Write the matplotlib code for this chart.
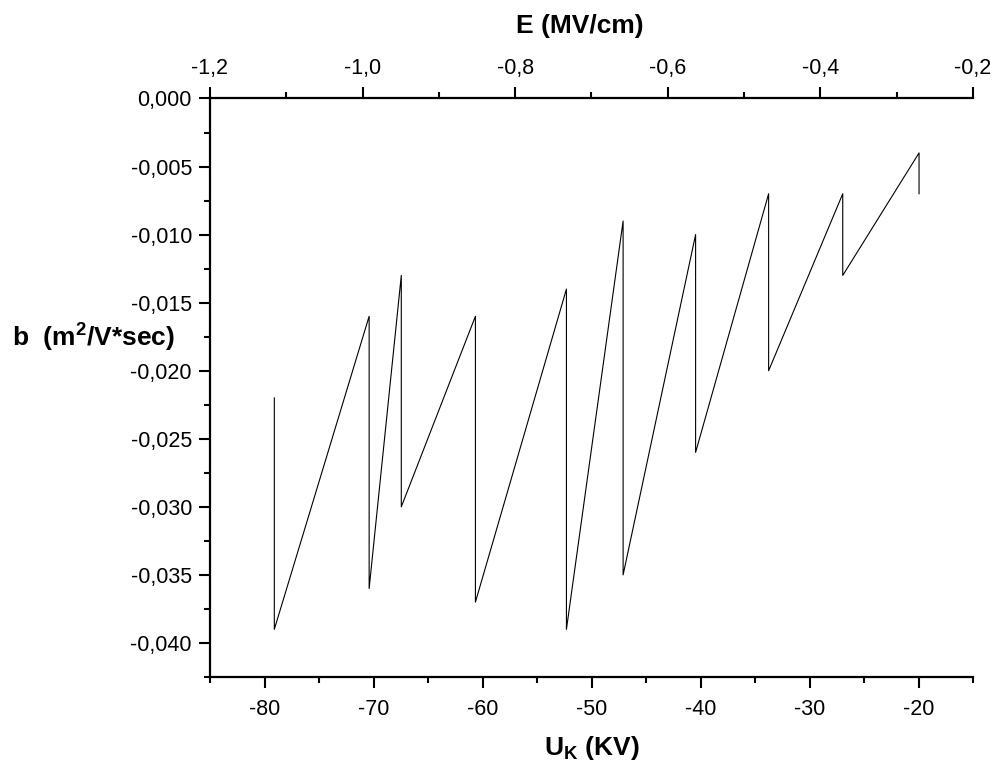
import matplotlib
matplotlib.use("Agg")
import matplotlib.pyplot as plt
from matplotlib.ticker import MultipleLocator, FuncFormatter

# sawtooth data: U_K (KV) and b (m2/V*sec)
u_k = [-79.1, -79.1, -70.4, -70.4, -67.45, -67.45, -60.65, -60.65, -52.3, -52.3,
       -47.1, -47.1, -40.45, -40.45, -33.75, -33.75, -26.95, -26.95, -19.95, -19.95]
b_val = [-0.022, -0.039, -0.016, -0.036, -0.013, -0.030, -0.016, -0.037, -0.014, -0.039,
         -0.009, -0.035, -0.010, -0.026, -0.007, -0.020, -0.007, -0.013, -0.004, -0.007]

x_lim = (-85, -15)
e_lim = (-1.2, -0.2)
y_lim = (-0.0425, 0.0)

plt.rcParams['font.family'] = ['Liberation Sans', 'DejaVu Sans']

def u_to_e(u):
    return e_lim[0] + (u - x_lim[0]) * (e_lim[1] - e_lim[0]) / (x_lim[1] - x_lim[0])

def e_to_u(e):
    return x_lim[0] + (e - e_lim[0]) * (x_lim[1] - x_lim[0]) / (e_lim[1] - e_lim[0])

def comma_fmt(ndig):
    return FuncFormatter(lambda v, p: ("%.*f" % (ndig, v)).replace('.', ',').replace('-0,000', '0,000'))

fig = plt.figure(figsize=(10, 7.76), dpi=100)
ax = fig.add_axes([0.21, 0.1276, 0.763, 0.7455])

ax.plot(u_k, b_val, color='black', linewidth=0.8)
ax.set_xlim(*x_lim)
ax.set_ylim(*y_lim)

ax.spines['right'].set_visible(False)
ax.spines['top'].set_visible(False)
for s in ['left', 'bottom']:
    ax.spines[s].set_linewidth(1.6)

ax.xaxis.set_major_locator(MultipleLocator(10))
ax.xaxis.set_minor_locator(MultipleLocator(5))
ax.yaxis.set_major_locator(MultipleLocator(0.005))
ax.yaxis.set_minor_locator(MultipleLocator(0.0025))
ax.xaxis.set_major_formatter(FuncFormatter(lambda v, p: "%d" % round(v)))
ax.yaxis.set_major_formatter(comma_fmt(3))
ax.tick_params(which='major', direction='out', length=8, width=1.5, labelsize=15.5, pad=8)
ax.tick_params(which='minor', direction='out', length=4.5, width=1.5)
ax.tick_params(axis='y', pad=5)

top = ax.secondary_xaxis('top', functions=(u_to_e, e_to_u))
top.spines['top'].set_linewidth(1.6)
top.xaxis.set_major_locator(MultipleLocator(0.2))
top.xaxis.set_minor_locator(MultipleLocator(0.1))
top.xaxis.set_major_formatter(comma_fmt(1))
top.tick_params(which='major', direction='out', length=8, width=1.5, labelsize=15.5, pad=6)
top.tick_params(which='minor', direction='out', length=4.5, width=1.5)

ax.set_xlabel(r'U$_\mathregular{K}$ (KV)', fontsize=19, fontweight='bold', labelpad=10)
top.set_xlabel('E (MV/cm)', fontsize=19, fontweight='bold', labelpad=18)
top.xaxis.label.set_x(0.485)
fig.text(0.012, 0.566, r'b  (m$^\mathregular{2}$/V*sec)', fontsize=19, fontweight='bold',
         ha='left', va='center')

fig.savefig('out.png', dpi=100)
